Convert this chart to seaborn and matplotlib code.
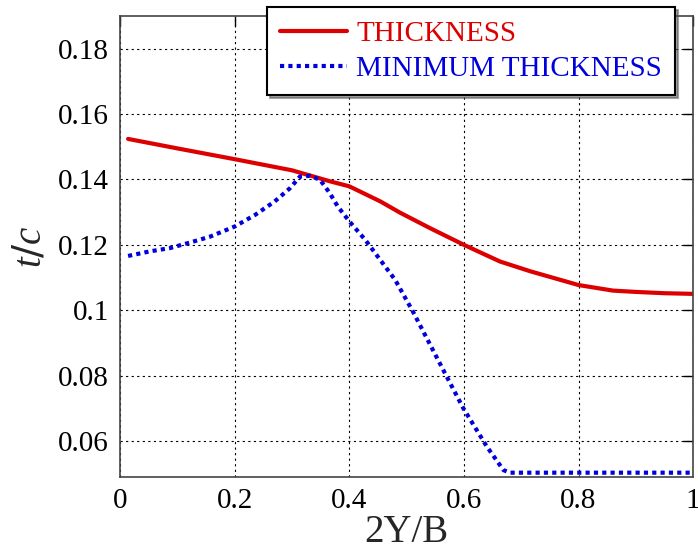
import pandas as pd
import seaborn as sns
import matplotlib
matplotlib.use("Agg")
import matplotlib.pyplot as plt

# Spanwise thickness distribution
span_thk = [0.014, 0.1, 0.2, 0.3, 0.367, 0.4, 0.454, 0.489, 0.541, 0.6, 0.663, 0.716,
            0.8, 0.86, 0.9, 0.95, 1.0]
thickness = [0.1524, 0.1495, 0.1462, 0.1428, 0.1394, 0.1379, 0.1333, 0.1298, 0.1251, 0.1200,
             0.1149, 0.1119, 0.1077, 0.1060, 0.1056, 0.1052, 0.1050]

span_min = [0.014, 0.052, 0.087, 0.122, 0.157, 0.2, 0.236, 0.27, 0.297, 0.314, 0.332, 0.349,
            0.366, 0.38, 0.401, 0.428, 0.48, 0.511, 0.57, 0.599, 0.64, 0.669, 0.68, 0.8, 0.9, 1.0]
min_thickness = [0.1166, 0.1180, 0.1190, 0.1207, 0.1225, 0.1256, 0.1292, 0.1333, 0.1374, 0.1409,
                 0.1411, 0.1399, 0.1358, 0.1317, 0.1270, 0.1215, 0.1093, 0.0996, 0.0797, 0.0700,
                 0.0583, 0.0511, 0.0503, 0.0503, 0.0503, 0.0503]

labels = ["THICKNESS", "MINIMUM THICKNESS"]
colors = ["#dd0000", "#0000dd"]

df = pd.concat([
    pd.DataFrame({"x": span_thk, "y": thickness, "series": labels[0]}),
    pd.DataFrame({"x": span_min, "y": min_thickness, "series": labels[1]}),
])

sns.set_style("white")
plt.rcParams["font.family"] = ["Liberation Serif", "DejaVu Serif"]
plt.rcParams["mathtext.fontset"] = "custom"
plt.rcParams["mathtext.it"] = "Liberation Serif:italic"

fig = plt.figure(figsize=(6.98, 5.52), dpi=100)
ax = fig.add_axes([0.172, 0.136, 0.821, 0.835])

sns.lineplot(data=df, x="x", y="y", hue="series", style="series",
             palette=colors, dashes=["", (1, 1)], linewidth=3, ax=ax, sort=False)

ax.set_xlim(0, 1)
ax.set_ylim(0.049, 0.19)
ax.set_xticks([0, 0.2, 0.4, 0.6, 0.8, 1])
ax.set_xticklabels(["0", "0.2", "0.4", "0.6", "0.8", "1"])
ax.set_yticks([0.06, 0.08, 0.1, 0.12, 0.14, 0.16, 0.18])
ax.set_yticklabels(["0.06", "0.08", "0.1", "0.12", "0.14", "0.16", "0.18"])
ax.tick_params(direction="in", length=7, width=1, labelsize=21, top=True, right=True,
               colors="black", pad=8)
ax.grid(True, color="black", linestyle=(0, (2, 3)), linewidth=0.8)
for s in ax.spines.values():
    s.set_color("#444444")
    s.set_linewidth(1.2)

ax.set_xlabel("2Y/B", fontsize=28, labelpad=0)
ax.set_ylabel("$t/c$", fontsize=28, labelpad=6)

leg = ax.legend(loc="upper right", bbox_to_anchor=(0.967, 0.987), bbox_transform=fig.transFigure,
                fontsize=21, frameon=True, fancybox=False, shadow=True, borderaxespad=0,
                handlelength=2.3, handletextpad=0.3, labelspacing=0.3, borderpad=0.45)
leg.get_frame().set_edgecolor("black")
leg.get_frame().set_linewidth(1.5)
leg.get_frame().set_alpha(1)
for txt, c in zip(leg.get_texts(), colors):
    txt.set_color(c)

fig.savefig("out.png", dpi=100)
